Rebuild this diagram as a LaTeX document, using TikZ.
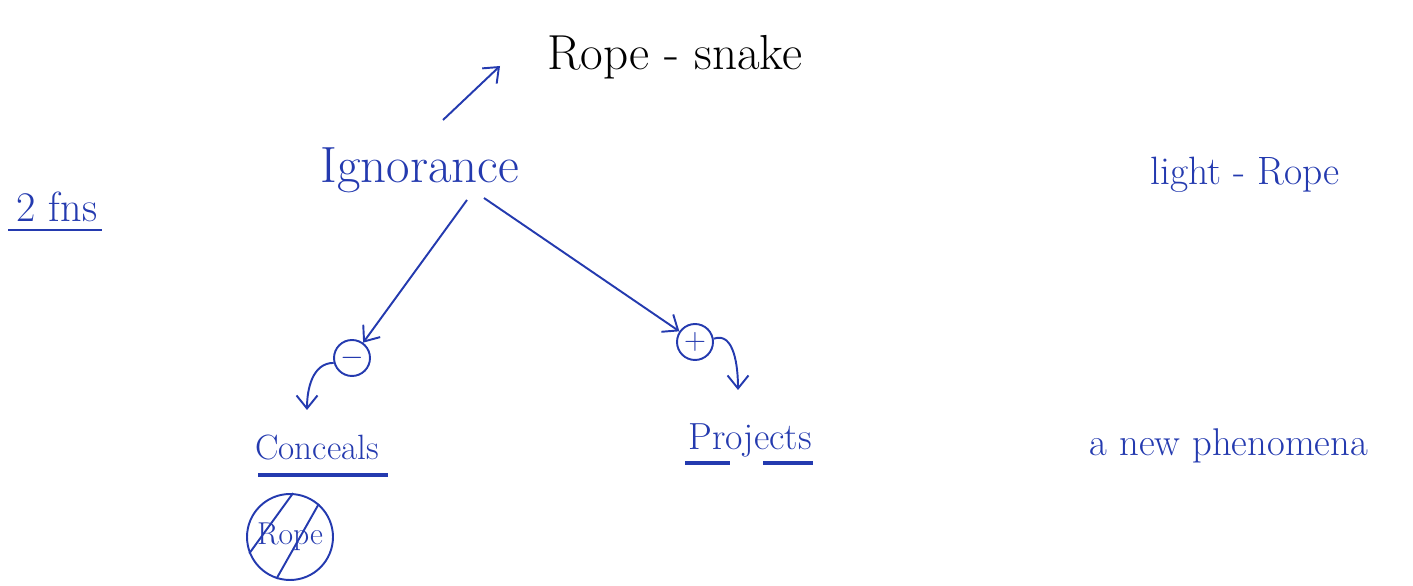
\documentclass[tikz,border=0pt]{standalone}
\usepackage{xcolor}
\usepackage{tikz}
\usetikzlibrary{arrows.meta, positioning, calc}
\definecolor{ink}{RGB}{36,58,175}

\begin{document}
\begin{tikzpicture}[x=0.02cm, y=0.02cm,
  hand/.style={text=ink, anchor=base, inner sep=0pt, font=\fontsize{#1}{#1}\selectfont},
  sign/.style={draw=ink, text=ink, circle, line width=1.1pt, minimum size=0.72cm, inner sep=0pt, font=\fontsize{18}{18}\selectfont},
  edge/.style={-{Straight Barb[length=2.6mm, width=4.2mm]}, ink, line width=1.1pt},
  uline/.style={ink, line width=1.8pt}
]
\useasboundingbox (0,0) rectangle (1413,585);

\node[hand=28, text=black] (rs) at (675,515) {Rope - snake};
\node[hand=29] (ign) at (420,402) {Ignorance};
\node[sign] (minus) at (352,227) {$-$};
\node[sign] (plus) at (695,243) {$+$};
\node[hand=20] (conc) at (317,125) {Conceals};
\node[hand=21.5] (proj) at (750,135) {Projects};
\node[hand=24] (fns) at (57,363) {2 fns};
\node[hand=22.5] (lr) at (1245,400) {light - Rope};
\node[hand=22] (anp) at (1229,130) {a new phenomena};
\node[draw=ink, text=ink, circle, line width=1.1pt, minimum size=1.72cm, inner sep=0pt,
  font=\fontsize{18}{18}\selectfont] (rx) at (290,48) {Rope};

\draw[edge] ([shift={(23,63)}]ign.base) -- ([shift={(-175,4)}]rs.base);
\draw[edge] ([shift={(47,-17)}]ign.base) -- (minus);
\draw[edge] ([shift={(64,-15)}]ign.base) -- (plus);
\draw[edge] (minus.195) to[out=180, in=90] ([shift={(-10,50)}]conc.base);
\draw[edge] (plus.10) to[out=20, in=90] ([shift={(-12,60)}]proj.base);

\draw[uline] ([shift={(-59,-15)}]conc.base) -- ([shift={(71,-15)}]conc.base);
\draw[uline] ([shift={(-65,-13)}]proj.base) -- ([shift={(-20,-13)}]proj.base);
\draw[uline] ([shift={(13,-13)}]proj.base) -- ([shift={(63,-13)}]proj.base);
\draw[ink, line width=1.2pt] ([shift={(-49,-8)}]fns.base) -- ([shift={(45,-8)}]fns.base);

\draw[ink, line width=1.1pt] (rx.86) -- (rx.202);
\draw[ink, line width=1.1pt] (rx.49) -- (rx.252);
\end{tikzpicture}
\end{document}
